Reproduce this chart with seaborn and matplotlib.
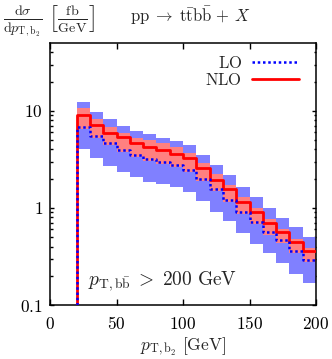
import numpy as np
import pandas as pd
import matplotlib
matplotlib.use("Agg")
import matplotlib.pyplot as plt
import seaborn as sns
from matplotlib.ticker import FixedLocator, FixedFormatter, NullFormatter

# ---- data ----
bin_edges = [20, 30, 40, 50, 60, 70, 80, 90, 100, 110, 120, 130, 140, 150, 160, 170, 180, 190, 200]
nlo = [9.03, 7.12, 5.93, 5.32, 4.68, 4.25, 3.94, 3.58, 3.23, 2.55, 1.96, 1.55, 1.15, 0.91, 0.70, 0.56, 0.45, 0.36]
nlo_hi = [10.6, 8.21, 6.84, 5.93, 5.27, 4.99, 4.61, 4.26, 3.71, 2.89, 2.23, 1.73, 1.29, 1.00, 0.76, 0.61, 0.48, 0.39]
nlo_lo = [6.5, 5.3, 4.45, 3.8, 3.35, 3.05, 2.85, 2.65, 2.35, 1.9, 1.48, 1.15, 0.87, 0.69, 0.53, 0.44, 0.34, 0.275]
lo = [6.74, 5.48, 4.61, 3.93, 3.49, 3.18, 2.94, 2.75, 2.45, 1.99, 1.55, 1.21, 0.91, 0.72, 0.566, 0.464, 0.358, 0.29]
lo_hi = [12.4, 9.77, 8.21, 7.0, 6.22, 5.71, 5.23, 4.87, 4.40, 3.49, 2.75, 2.17, 1.63, 1.29, 0.99, 0.78, 0.63, 0.50]
lo_lo = [4.0, 3.23, 2.71, 2.35, 2.09, 1.85, 1.75, 1.65, 1.46, 1.18, 0.91, 0.73, 0.55, 0.43, 0.34, 0.27, 0.21, 0.17]
x_ticks = [0, 50, 100, 150, 200]
x_ticklabels = ["0", "50", "100", "150", "200"]
y_ticks = [0.1, 1, 10]
y_ticklabels = ["0.1", "1", "10"]
y_floor = 0.1

sns.set_theme(style="ticks")
plt.rcParams["mathtext.fontset"] = "cm"
plt.rcParams["font.family"] = ["DejaVu Serif"]

fig = plt.figure(figsize=(3.32, 3.59), dpi=100)
ax = fig.add_axes([50/332, 1-305/359, 266/332, 262/359])

def ext(v):
    return list(v) + [v[-1]]

# bands
ax.fill_between(bin_edges, ext(lo_lo), ext(lo_hi), step="post", color="#8080ff", lw=0, zorder=1)
ax.fill_between(bin_edges, ext(nlo_lo), ext(nlo_hi), step="post", color="#ff8080", lw=0, zorder=2)

# central lines
df_lo = pd.DataFrame({"x": [bin_edges[0]] + bin_edges, "y": [y_floor] + ext(lo), "s": "LO"})
df_nlo = pd.DataFrame({"x": [bin_edges[0]] + bin_edges, "y": [y_floor] + ext(nlo), "s": "NLO"})
sns.lineplot(data=df_lo, x="x", y="y", sort=False, estimator=None, drawstyle="steps-post",
             color="#0000ff", lw=1.8, linestyle=(0, (1, 1.1)), ax=ax, label="LO", zorder=4)
sns.lineplot(data=df_nlo, x="x", y="y", sort=False, estimator=None, drawstyle="steps-post",
             color="#ff0000", lw=2.0, ax=ax, label="NLO", zorder=3)

ax.set_yscale("log")
ax.set_xlim(0, 200)
ax.set_ylim(0.1, 50)

ax.xaxis.set_major_locator(FixedLocator(x_ticks))
ax.xaxis.set_major_formatter(FixedFormatter(["$%s$" % t for t in x_ticklabels]))
ax.yaxis.set_major_locator(FixedLocator(y_ticks))
ax.yaxis.set_major_formatter(FixedFormatter(["$%s$" % t for t in y_ticklabels]))
minors = [m * d for d in (0.1, 1, 10) for m in range(2, 10) if m * d < 50]
ax.yaxis.set_minor_locator(FixedLocator(minors))
ax.yaxis.set_minor_formatter(NullFormatter())
ax.xaxis.set_minor_locator(FixedLocator([]))

ax.tick_params(axis="both", which="both", direction="in", top=True, right=True,
               labelsize=12.5, width=1.0, color="black", labelcolor="black")
ax.tick_params(axis="x", which="major", length=4.5, pad=8)
ax.tick_params(axis="y", which="major", length=3, pad=5)
ax.tick_params(axis="y", which="minor", length=1.8)
for sp in ax.spines.values():
    sp.set_linewidth(1.1)
    sp.set_color("black")
    sp.set_visible(True)

ax.set_xlabel(r"$p_{\mathrm{T,b_2}}\ [\mathrm{GeV}]$", fontsize=12.5, labelpad=2)
ax.set_ylabel("")

leg = ax.legend(loc="upper right", frameon=False, markerfirst=False, fontsize=12,
                handlelength=2.8, handletextpad=0.6, labelspacing=0.0,
                borderaxespad=0.3, bbox_to_anchor=(0.98, 1.0))
for t in leg.get_texts():
    t.set_text("$\\mathrm{%s}$" % t.get_text())

ax.text(0.143, 0.092, r"$p_{\mathrm{T,b\bar{b}}}\;>\;200\ \mathrm{GeV}$", transform=ax.transAxes,
        fontsize=14, ha="left", va="center")

fig.text(3/332, 1-21/359,
         r"$\frac{\mathrm{d}\sigma}{\mathrm{d}p_{\mathrm{T,b_2}}}\ \left[\frac{\mathrm{fb}}{\mathrm{GeV}}\right]$",
         fontsize=14.5, ha="left", va="center")
fig.text(130/332, 1-16/359, r"$\mathrm{pp}\;\rightarrow\;\mathrm{t\bar{t}b\bar{b}}\,+\,X$",
         fontsize=12, ha="left", va="center")

fig.savefig("out.png", dpi=100)
